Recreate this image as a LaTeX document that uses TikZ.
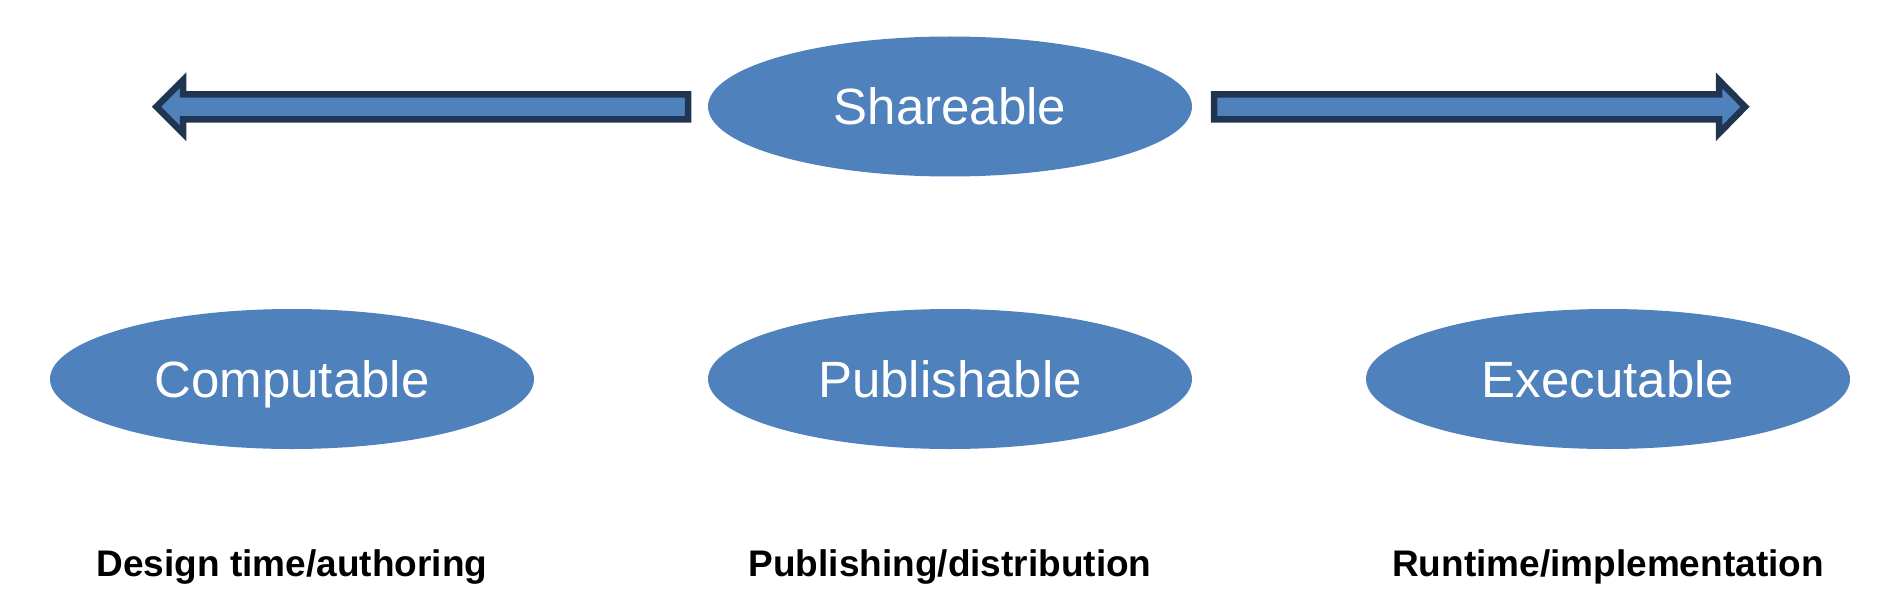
\documentclass[tikz,border=0pt]{standalone}
\usepackage{fontspec}
\setmainfont{Liberation Sans}
\usetikzlibrary{shapes.geometric}
\definecolor{ofblue}{HTML}{4F81BD}
\definecolor{navy}{HTML}{1F3552}
\begin{document}
\begin{tikzpicture}[x=1pt,y=-1pt,
  oval/.style={ellipse, fill=ofblue, minimum width=484pt, minimum height=140pt,
    inner sep=0pt, text=white, text height=36.5pt, text depth=0pt,
    font=\fontsize{51}{60}\selectfont},
  lbl/.style={anchor=base, inner sep=0pt, font=\bfseries\fontsize{37}{44}\selectfont},
  fatarrow/.style={fill=ofblue, draw=navy, line width=6.5pt, miter limit=10}]
\useasboundingbox (0,0) rectangle (1898,615);
\node[oval] (share) at (950,106.5) {Shareable};
\node[oval] (comp) at (292,379) {Computable};
\node[oval] (pub) at (950,379) {Publishable};
\node[oval] (exec) at (1608,379) {Executable};
\node[lbl] (l1) at (292,576) {Design time/authoring};
\node[lbl] (l2) at (950,576) {Publishing/distribution};
\node[lbl] (l3) at (1608,576) {Runtime/implementation};
% left block arrow
\coordinate (ltip) at (156.5,106.8);
\draw[fatarrow] (ltip) -- (183,80.3) -- (183,94.3) -- (688,94.3) -- (688,119.5)
  -- (183,119.5) -- (183,133.3) -- cycle;
% right block arrow
\coordinate (rtip) at (1745,106.8);
\draw[fatarrow] (rtip) -- (1719,80.3) -- (1719,94.3) -- (1214,94.3) -- (1214,119.5)
  -- (1719,119.5) -- (1719,133.3) -- cycle;
\end{tikzpicture}
\end{document}
